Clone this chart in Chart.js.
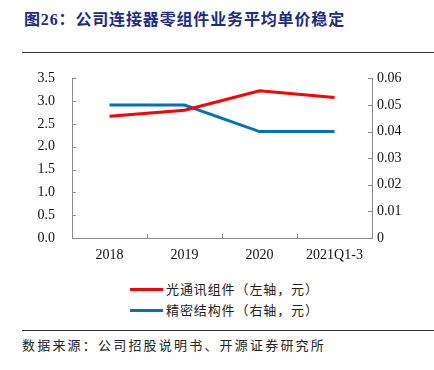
<!DOCTYPE html>
<html>
<head>
<meta charset="utf-8">
<script src="https://cdn.jsdelivr.net/npm/chart.js@4"></script>
<style>
  body { margin:0; width:434px; height:370px; background:#fff; position:relative; overflow:hidden; }
  .titulo { position:absolute; left:24px; top:6px; font:bold 16px "Liberation Serif","Noto Sans CJK SC"; color:#1d2b85; letter-spacing:0.85px; white-space:nowrap; }
  .linea { position:absolute; left:22px; right:0; height:0; border-top:1.3px solid #333; }
  .fuente { position:absolute; left:22px; top:335px; font:13px "Noto Sans CJK SC"; color:#222; letter-spacing:2.2px; white-space:nowrap; }
  #caja { position:absolute; left:0; top:53px; width:434px; height:220px; }
  .leyenda { position:absolute; left:130px; font:13px "Noto Sans CJK SC"; color:#222; letter-spacing:0.9px; white-space:nowrap; }
  .leyenda span { display:inline-block; width:33px; height:3px; vertical-align:middle; margin-right:3px; position:relative; top:-1px; }
</style>
</head>
<body>
<div class="titulo">图26：公司连接器零组件业务平均单价稳定</div>
<div class="linea" style="top:52px"></div>
<div id="caja"><canvas id="myChart"></canvas></div>
<div class="leyenda" id="ley0" style="top:279px"></div>
<div class="leyenda" id="ley1" style="top:300px"></div>
<div class="linea" style="top:330px"></div>
<div class="fuente">数据来源：公司招股说明书、开源证券研究所</div>
<script>
// datos
const categorias = ["2018", "2019", "2020", "2021Q1-3"]
const nombres = ["光通讯组件（左轴，元）", "精密结构件（右轴，元）"]
const optico = [2.67, 2.80, 3.23, 3.08]
const precision = [0.05, 0.05, 0.04, 0.04]
const colores = ["#ff0000", "#0070c0"]

const gris = "#8c8c8c"

// leyenda en html
nombres.forEach((n, i) => {
    document.getElementById("ley" + i).innerHTML = `<span style="background:${colores[i]}"></span>${n}`
})

// marcas de los ejes hacia adentro
const marcas = {
    id: "marcas",
    afterDraw(chart) {
        const ctx = chart.ctx
        const a = chart.chartArea
        ctx.save()
        ctx.strokeStyle = gris
        ctx.lineWidth = 1
        ctx.beginPath()
        chart.scales.y.ticks.forEach((t, i) => {
            const y = Math.round(chart.scales.y.getPixelForTick(i)) + 0.5
            ctx.moveTo(a.left, y); ctx.lineTo(a.left + 4, y)
        })
        chart.scales.y1.ticks.forEach((t, i) => {
            const y = Math.round(chart.scales.y1.getPixelForTick(i)) + 0.5
            ctx.moveTo(a.right, y); ctx.lineTo(a.right - 4, y)
        })
        const x = chart.scales.x
        for (let i = 0; i < categorias.length - 1; i++) {
            const px = Math.round((x.getPixelForValue(i) + x.getPixelForValue(i + 1)) / 2) + 0.5
            ctx.moveTo(px, a.bottom); ctx.lineTo(px, a.bottom - 4)
        }
        ctx.stroke()
        ctx.restore()
    }
}

const fuenteEje = { family: "'Liberation Serif', 'Times New Roman'", size: 14 }

new Chart(document.getElementById("myChart"), {
    type: "line",
    data: {
        labels: categorias,
        datasets: [
            { label: nombres[0], data: optico, borderColor: colores[0], borderWidth: 3, pointRadius: 0, tension: 0, yAxisID: "y" },
            { label: nombres[1], data: precision, borderColor: colores[1], borderWidth: 3, pointRadius: 0, tension: 0, yAxisID: "y1" }
        ]
    },
    options: {
        responsive: true,
        maintainAspectRatio: false,
        animation: false,
        layout: { padding: { top: 20, left: 0, right: 0, bottom: 0 } },
        plugins: { legend: { display: false }, tooltip: { enabled: false } },
        scales: {
            x: {
                offset: true,
                grid: { display: false, drawTicks: false },
                border: { display: true, color: gris },
                ticks: { color: "#111", font: fuenteEje, padding: 9, maxRotation: 0 },
                afterFit: s => { s.height = 35 }
            },
            y: {
                position: "left",
                min: 0, max: 3.5,
                grid: { display: false, drawTicks: false },
                border: { display: true, color: gris },
                ticks: { stepSize: 0.5, color: "#111", font: fuenteEje, padding: 17, callback: v => v.toFixed(1) },
                afterFit: s => { s.width = 72 }
            },
            y1: {
                position: "right",
                min: 0, max: 0.06,
                grid: { display: false, drawTicks: false },
                border: { display: true, color: gris },
                ticks: { stepSize: 0.01, color: "#111", font: fuenteEje, padding: 5, callback: v => v === 0 ? "0" : v.toFixed(2) },
                afterFit: s => { s.width = 62 }
            }
        }
    },
    plugins: [marcas]
})
</script>
</body>
</html>
